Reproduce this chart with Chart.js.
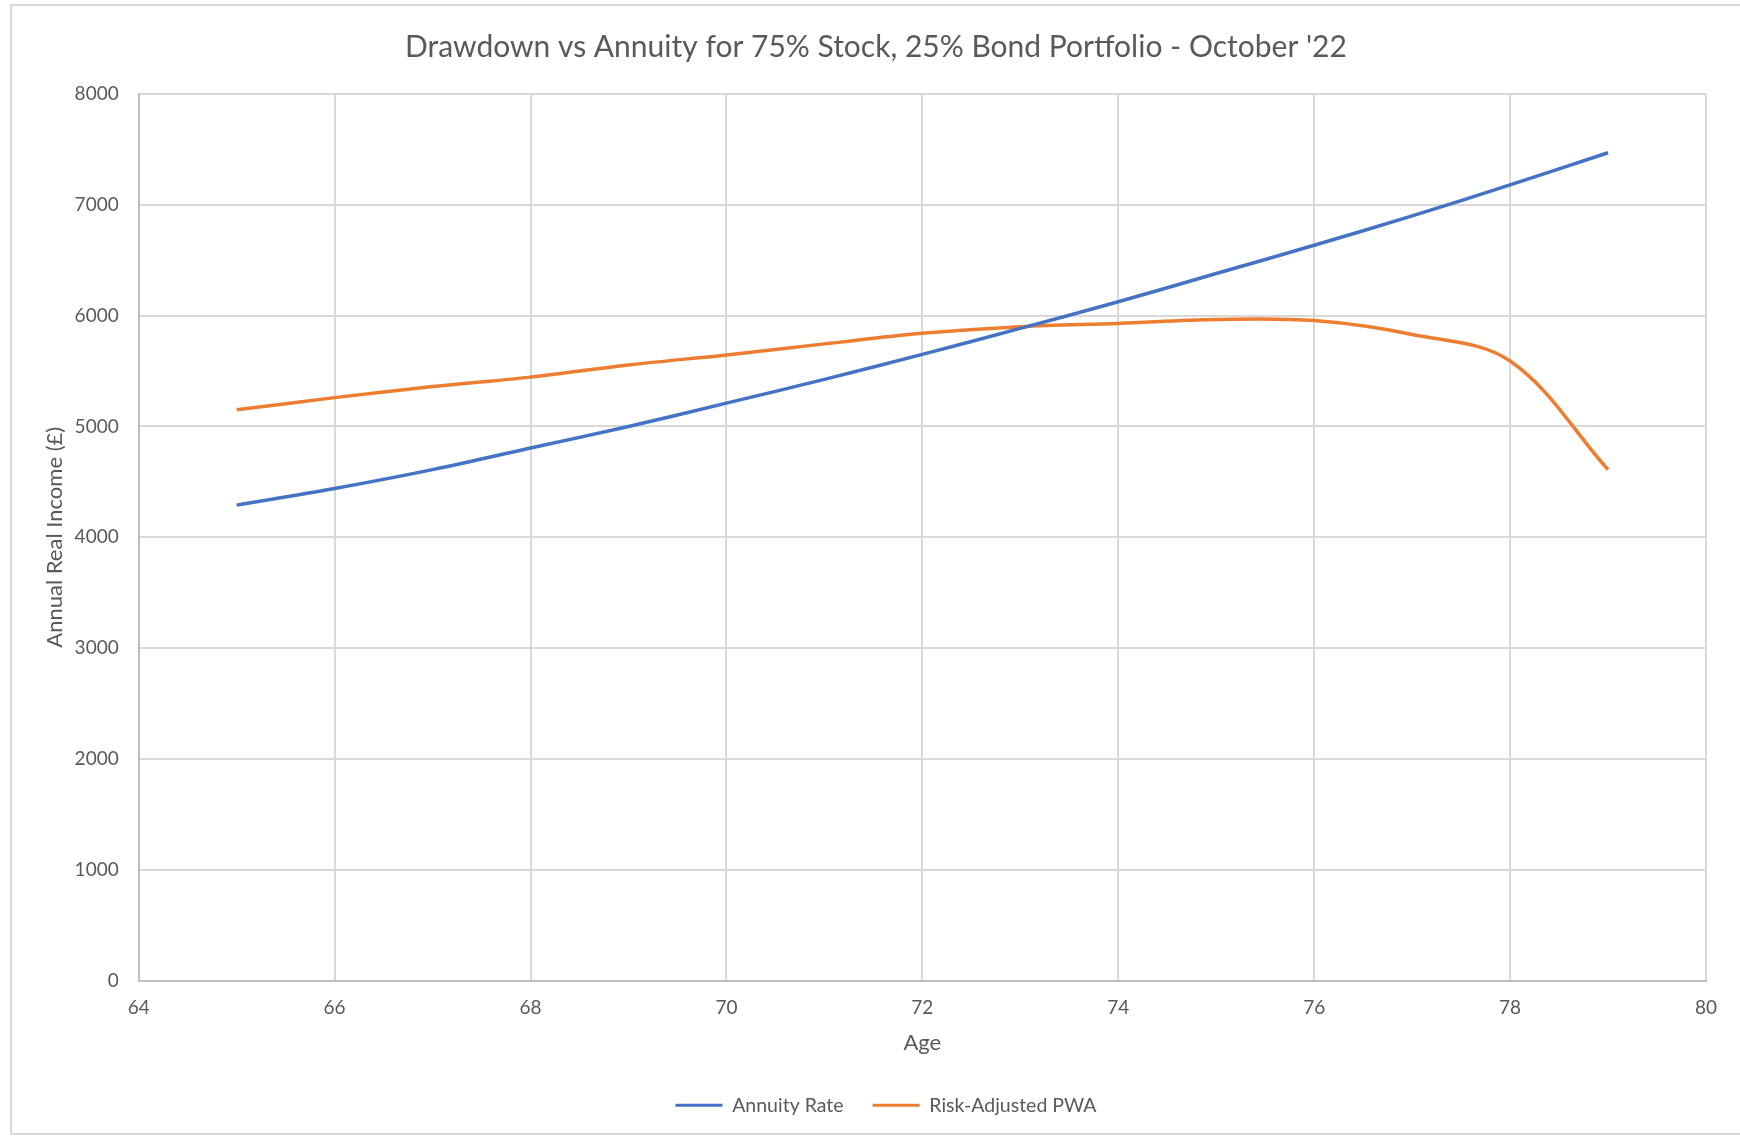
<!DOCTYPE html>
<html>
<head>
<meta charset="utf-8">
<title>Drawdown vs Annuity</title>
<script src="https://cdn.jsdelivr.net/npm/chart.js@4/dist/chart.umd.min.js"></script>
<style>
  html, body { margin: 0; padding: 0; background: #ffffff; }
  #wrap { width: 1740px; height: 1137px; }
</style>
</head>
<body>
<div id="wrap"><canvas id="chart" width="1740" height="1137"></canvas></div>
<script>
// Age (years) at which income is taken
const ages = [65, 66, 67, 68, 69, 70, 71, 72, 73, 74, 75, 76, 77, 78, 79];
// Annual real income (£) from buying an annuity at each age
const annuityRate = [4290, 4440, 4610, 4805, 5000, 5210, 5425, 5650, 5885, 6125, 6380, 6635, 6900, 7180, 7470];
// Risk-adjusted perpetual withdrawal amount (£) from the portfolio
const riskAdjustedPWA = [5150, 5260, 5360, 5445, 5555, 5645, 5745, 5840, 5900, 5930, 5965, 5955, 5830, 5590, 4610];
// Axis ticks
const xTicks = [64, 66, 68, 70, 72, 74, 76, 78, 80];
const yTicks = [0, 1000, 2000, 3000, 4000, 5000, 6000, 7000, 8000];

const FONT = 'Lato, "Open Sans", sans-serif';
const TEXT = '#595959';
const GRID = '#d9d9d9';

const toPoints = (xs, ys) => xs.map((x, i) => ({ x: x, y: ys[i] }));

// Light frame around the whole chart
const framePlugin = {
  id: 'frame',
  afterDraw(chart) {
    const ctx = chart.ctx;
    ctx.save();
    ctx.strokeStyle = '#d9d9d9';
    ctx.lineWidth = 2;
    ctx.strokeRect(11, 5, chart.width, chart.height - 8);
    ctx.restore();
  }
};

// Nudge the title and legend so they sit centred on the full frame
const centreShift = {
  id: 'centreShift',
  afterLayout(chart) {
    const lg = chart.legend;
    if (lg) { lg.left += 33; lg.right += 33; }
    const tb = chart.titleBlock;
    if (tb) { tb.left += 23; tb.right += 23; }
  }
};

new Chart(document.getElementById('chart'), {
  type: 'line',
  data: {
    datasets: [
      {
        label: 'Annuity Rate',
        data: toPoints(ages, annuityRate),
        borderColor: '#4472C4',
        backgroundColor: '#4472C4',
        borderWidth: 3.5,
        pointRadius: 0,
        tension: 0.35,
        fill: false
      },
      {
        label: 'Risk-Adjusted PWA',
        data: toPoints(ages, riskAdjustedPWA),
        borderColor: '#ED7D31',
        backgroundColor: '#ED7D31',
        borderWidth: 3.5,
        pointRadius: 0,
        tension: 0.35,
        fill: false
      }
    ]
  },
  options: {
    responsive: false,
    animation: false,
    devicePixelRatio: 1,
    layout: { padding: { left: 0, right: 34, top: 0, bottom: 12 } },
    plugins: {
      title: {
        display: true,
        text: "Drawdown vs Annuity for 75% Stock, 25% Bond Portfolio - October '22",
        color: TEXT,
        font: { family: FONT, size: 30, weight: 'normal' },
        padding: { top: 29, bottom: 29 }
      },
      legend: {
        position: 'bottom',
        labels: {
          color: TEXT,
          font: { family: FONT, size: 19.5 },
          boxWidth: 47,
          boxHeight: 3,
          padding: 29,
          generateLabels(chart) {
            return chart.data.datasets.map((ds, i) => ({
              text: ds.label,
              fillStyle: ds.borderColor,
              strokeStyle: ds.borderColor,
              lineWidth: 0,
              hidden: !chart.isDatasetVisible(i),
              datasetIndex: i,
              fontColor: TEXT
            }));
          }
        }
      },
      tooltip: { enabled: false }
    },
    scales: {
      x: {
        type: 'linear',
        min: xTicks[0],
        max: xTicks[xTicks.length - 1],
        afterBuildTicks(scale) { scale.ticks = xTicks.map(v => ({ value: v })); },
        afterFit(scale) { scale.height = 86; },
        grid: { color: GRID, lineWidth: 2, drawTicks: false },
        border: { color: '#bfbfbf', width: 2 },
        ticks: {
          color: TEXT,
          font: { family: FONT, size: 19 },
          padding: 16,
          maxRotation: 0,
          callback: v => String(v)
        },
        title: {
          display: true,
          text: 'Age',
          color: TEXT,
          font: { family: FONT, size: 22 },
          padding: { top: 0, bottom: 10 }
        }
      },
      y: {
        min: yTicks[0],
        max: yTicks[yTicks.length - 1],
        afterBuildTicks(scale) { scale.ticks = yTicks.map(v => ({ value: v })); },
        afterFit(scale) { scale.width = 138.7; },
        grid: { color: GRID, lineWidth: 2, drawTicks: false },
        border: { color: '#bfbfbf', width: 2 },
        ticks: {
          color: TEXT,
          font: { family: FONT, size: 19 },
          padding: 20,
          callback: v => String(v)
        },
        title: {
          display: true,
          text: 'Annual Real Income (£)',
          color: TEXT,
          font: { family: FONT, size: 22 },
          padding: { top: 42, bottom: 0 }
        }
      }
    }
  },
  plugins: [framePlugin, centreShift]
});
</script>
</body>
</html>
